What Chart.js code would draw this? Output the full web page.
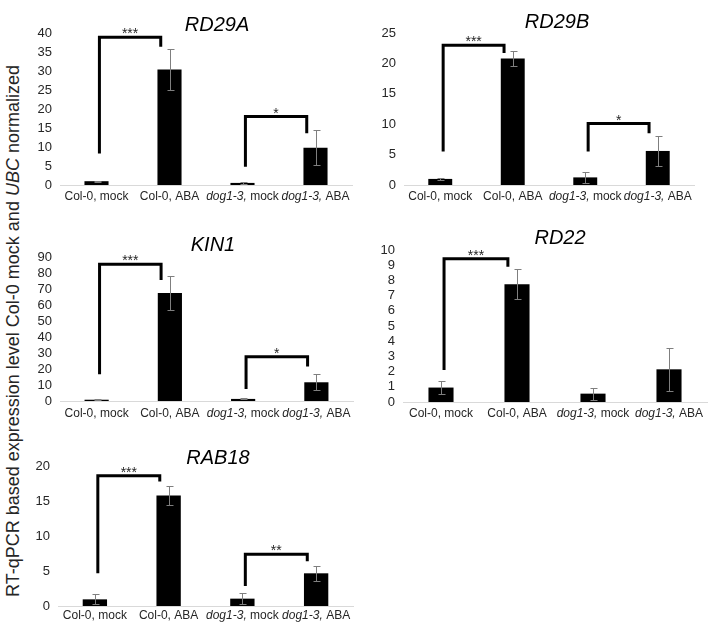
<!DOCTYPE html>
<html>
<head>
<meta charset="utf-8">
<script src="https://cdn.jsdelivr.net/npm/chart.js@4.4.1/dist/chart.umd.min.js"></script>
<style>
body { margin: 0; background: #fff; }
#wrap { position: relative; width: 709px; height: 622px; overflow: hidden; background: #fff; font-family: "Liberation Sans", Arial, sans-serif; }
#wrap canvas { position: absolute; }
#ylab { position: absolute; left: 13px; top: 331px; transform: translate(-50%, -50%) rotate(-90deg); white-space: nowrap; font-size: 18px; color: #262626; }
</style>
</head>
<body>
<div id="wrap">
  <div id="ylab">RT-qPCR based expression level Col-0 mock and <i>UBC</i> normalized</div>
  <canvas id="pRD29A"></canvas>
  <canvas id="pRD29B"></canvas>
  <canvas id="pKIN1"></canvas>
  <canvas id="pRD22"></canvas>
  <canvas id="pRAB18"></canvas>
</div>
<script>
// kategori sumbu x (bagian "dog1-3," ditulis miring)
const kategori = ['Col-0, mock', 'Col-0, ABA', 'dog1-3, mock', 'dog1-3, ABA'];

// nilai rata-rata dan galat baku tiap gen
const nilaiRD29A = [1.0, 30.4, 0.55, 9.8];
const galatRD29A = [0.15, 5.5, 0.3, 4.6];
const nilaiRD29B = [1.0, 20.8, 1.25, 5.6];
const galatRD29B = [0.15, 1.2, 0.93, 2.4];
const nilaiKIN1 = [0.8, 67.5, 1.3, 11.7];
const galatKIN1 = [0.2, 10.6, 0.3, 5.0];
const nilaiRD22 = [0.95, 7.75, 0.55, 2.15];
const galatRD22 = [0.42, 1.0, 0.4, 1.4];
const nilaiRAB18 = [0.95, 15.8, 1.05, 4.67];
const galatRAB18 = [0.7, 1.35, 0.75, 1.05];

// sumbu y: [maks, langkah]
const sumbuRD29A = [40, 5];
const sumbuRD29B = [25, 5];
const sumbuKIN1 = [90, 10];
const sumbuRD22 = [10, 1];
const sumbuRAB18 = [20, 5];

// kurung signifikansi: [kategori kiri, kategori kanan, kaki kiri, puncak, kaki kanan, tanda]
const kurungRD29A = [[0, 1, 8.3, 38.9, 36.4, '***'], [2, 3, 4.8, 18.0, 13.6, '*']];
const kurungRD29B = [[0, 1, 5.5, 23.0, 21.7, '***'], [2, 3, 5.5, 10.1, 8.5, '*']];
const kurungKIN1 = [[0, 1, 16.7, 85.4, 75.6, '***'], [2, 3, 7.5, 27.7, 21.5, '*']];
const kurungRD22 = [[0, 1, 2.1, 9.43, 8.9, '***']];
const kurungRAB18 = [[0, 1, 4.67, 18.6, 17.8, '***'], [2, 3, 2.86, 7.4, 6.4, '**']];

const HURUF = '"Liberation Sans", Arial, sans-serif';
Chart.defaults.font.family = HURUF;
Chart.defaults.color = '#262626';

const hiasan = {
    id: 'hiasan',
    afterDatasetsDraw(chart, args, opts) {
        const ctx = chart.ctx;
        const sx = chart.scales.x, sy = chart.scales.y;
        const meta = chart.getDatasetMeta(0);
        ctx.save();
        // error bar
        ctx.strokeStyle = '#7f7f7f'; ctx.lineWidth = 1;
        chart.data.datasets[0].data.forEach((v, i) => {
            const e = opts.galat[i];
            const x = Math.round(meta.data[i].x) + 0.5;
            const yA = Math.round(sy.getPixelForValue(v + e)) + 0.5;
            const yB = Math.round(sy.getPixelForValue(Math.max(0, v - e))) + 0.5;
            ctx.beginPath();
            ctx.moveTo(x, yA); ctx.lineTo(x, yB);
            ctx.moveTo(x - 3, yA); ctx.lineTo(x + 4, yA);
            ctx.moveTo(x - 3, yB); ctx.lineTo(x + 4, yB);
            ctx.stroke();
        });
        // kurung + bintang
        ctx.strokeStyle = '#000'; ctx.lineWidth = 3; ctx.lineJoin = 'miter'; ctx.lineCap = 'butt';
        ctx.fillStyle = '#262626'; ctx.font = '14px ' + HURUF;
        ctx.textAlign = 'center'; ctx.textBaseline = 'alphabetic';
        opts.kurung.forEach(([a, b, kakiA, puncak, kakiB, tanda]) => {
            const xA = sx.getPixelForValue(a + 0.04), xB = sx.getPixelForValue(b - 0.12);
            const yP = sy.getPixelForValue(puncak);
            ctx.beginPath();
            ctx.moveTo(xA, sy.getPixelForValue(kakiA));
            ctx.lineTo(xA, yP); ctx.lineTo(xB, yP);
            ctx.lineTo(xB, sy.getPixelForValue(kakiB));
            ctx.stroke();
            ctx.fillText(tanda, (xA + xB) / 2, yP + 1);
        });
        ctx.restore();
    },
    afterDraw(chart, args, opts) {
        const ctx = chart.ctx;
        const sx = chart.scales.x;
        ctx.save();
        ctx.fillStyle = '#262626';
        ctx.textBaseline = 'alphabetic'; ctx.textAlign = 'left';
        const y = chart.chartArea.bottom + opts.jarakLabel;
        chart.data.labels.forEach((lbl, i) => {
            let miring = '', tegak = lbl;
            if (lbl.startsWith('dog1-3')) { miring = 'dog1-3,'; tegak = lbl.slice(miring.length); }
            ctx.font = 'italic 12px ' + HURUF; const wM = ctx.measureText(miring).width;
            ctx.font = '12px ' + HURUF; const wT = ctx.measureText(tegak).width;
            let x = sx.getPixelForValue(i) - (wM + wT) / 2;
            ctx.font = 'italic 12px ' + HURUF; ctx.fillText(miring, x, y);
            ctx.font = '12px ' + HURUF; ctx.fillText(tegak, x + wM, y);
        });
        // judul gen
        ctx.font = 'italic 20px ' + HURUF; ctx.textAlign = 'center'; ctx.fillStyle = '#000';
        ctx.fillText(opts.judul, opts.judulX, opts.judulY);
        ctx.restore();
    }
};

function buatPanel(id, judul, nilai, galat, sumbu, kurung, tata) {
    const kanvas = document.getElementById(id);
    const [kl, kt, kw, kh] = tata.kotak;
    const [al, ar, at, ab] = tata.area;
    const lebarY = 26, tinggiX = 10;
    kanvas.width = kw; kanvas.height = kh;
    kanvas.style.left = kl + 'px'; kanvas.style.top = kt + 'px';
    kanvas.style.width = kw + 'px'; kanvas.style.height = kh + 'px';
    new Chart(kanvas, {
        type: 'bar',
        data: { labels: kategori, datasets: [{ data: nilai, backgroundColor: '#000', borderWidth: 0, barPercentage: 0.33, categoryPercentage: 1 }] },
        plugins: [hiasan],
        options: {
            responsive: false, animation: false, devicePixelRatio: 1,
            layout: { padding: { left: al - kl - lebarY, right: kl + kw - ar, top: at - kt, bottom: kt + kh - ab - tinggiX } },
            plugins: {
                legend: { display: false }, tooltip: { enabled: false },
                hiasan: { galat, kurung, judul, judulX: tata.judul[0] - kl, judulY: tata.judul[1] - kt, jarakLabel: tata.jarakLabel }
            },
            scales: {
                x: { grid: { display: false, drawTicks: false }, ticks: { display: false }, border: { color: '#d9d9d9', width: 1 },
                     afterFit: s => { s.height = tinggiX; } },
                y: { min: 0, max: sumbu[0], grid: { display: false, drawTicks: false }, border: { display: false },
                     ticks: { stepSize: sumbu[1], autoSkip: false, padding: 8, font: { size: 13 }, color: '#262626' },
                     afterFit: s => { s.width = lebarY; } }
            }
        }
    });
}

buatPanel('pRD29A', 'RD29A', nilaiRD29A, galatRD29A, sumbuRD29A, kurungRD29A,
    { kotak: [30, 0, 330, 210], area: [60, 352, 33, 185], judul: [217, 31], jarakLabel: 15 });
buatPanel('pRD29B', 'RD29B', nilaiRD29B, galatRD29B, sumbuRD29B, kurungRD29B,
    { kotak: [370, 0, 339, 210], area: [404, 694, 33, 185], judul: [557, 28], jarakLabel: 15 });
buatPanel('pKIN1', 'KIN1', nilaiKIN1, galatKIN1, sumbuKIN1, kurungKIN1,
    { kotak: [30, 215, 330, 210], area: [60, 353, 257, 401], judul: [213, 251], jarakLabel: 16 });
buatPanel('pRD22', 'RD22', nilaiRD22, galatRD22, sumbuRD22, kurungRD22,
    { kotak: [370, 215, 339, 210], area: [403, 707, 250, 402], judul: [560, 244], jarakLabel: 15 });
buatPanel('pRAB18', 'RAB18', nilaiRAB18, galatRAB18, sumbuRAB18, kurungRAB18,
    { kotak: [30, 425, 330, 197], area: [58, 353, 466, 606], judul: [218, 464], jarakLabel: 12.5 });
</script>
</body>
</html>
